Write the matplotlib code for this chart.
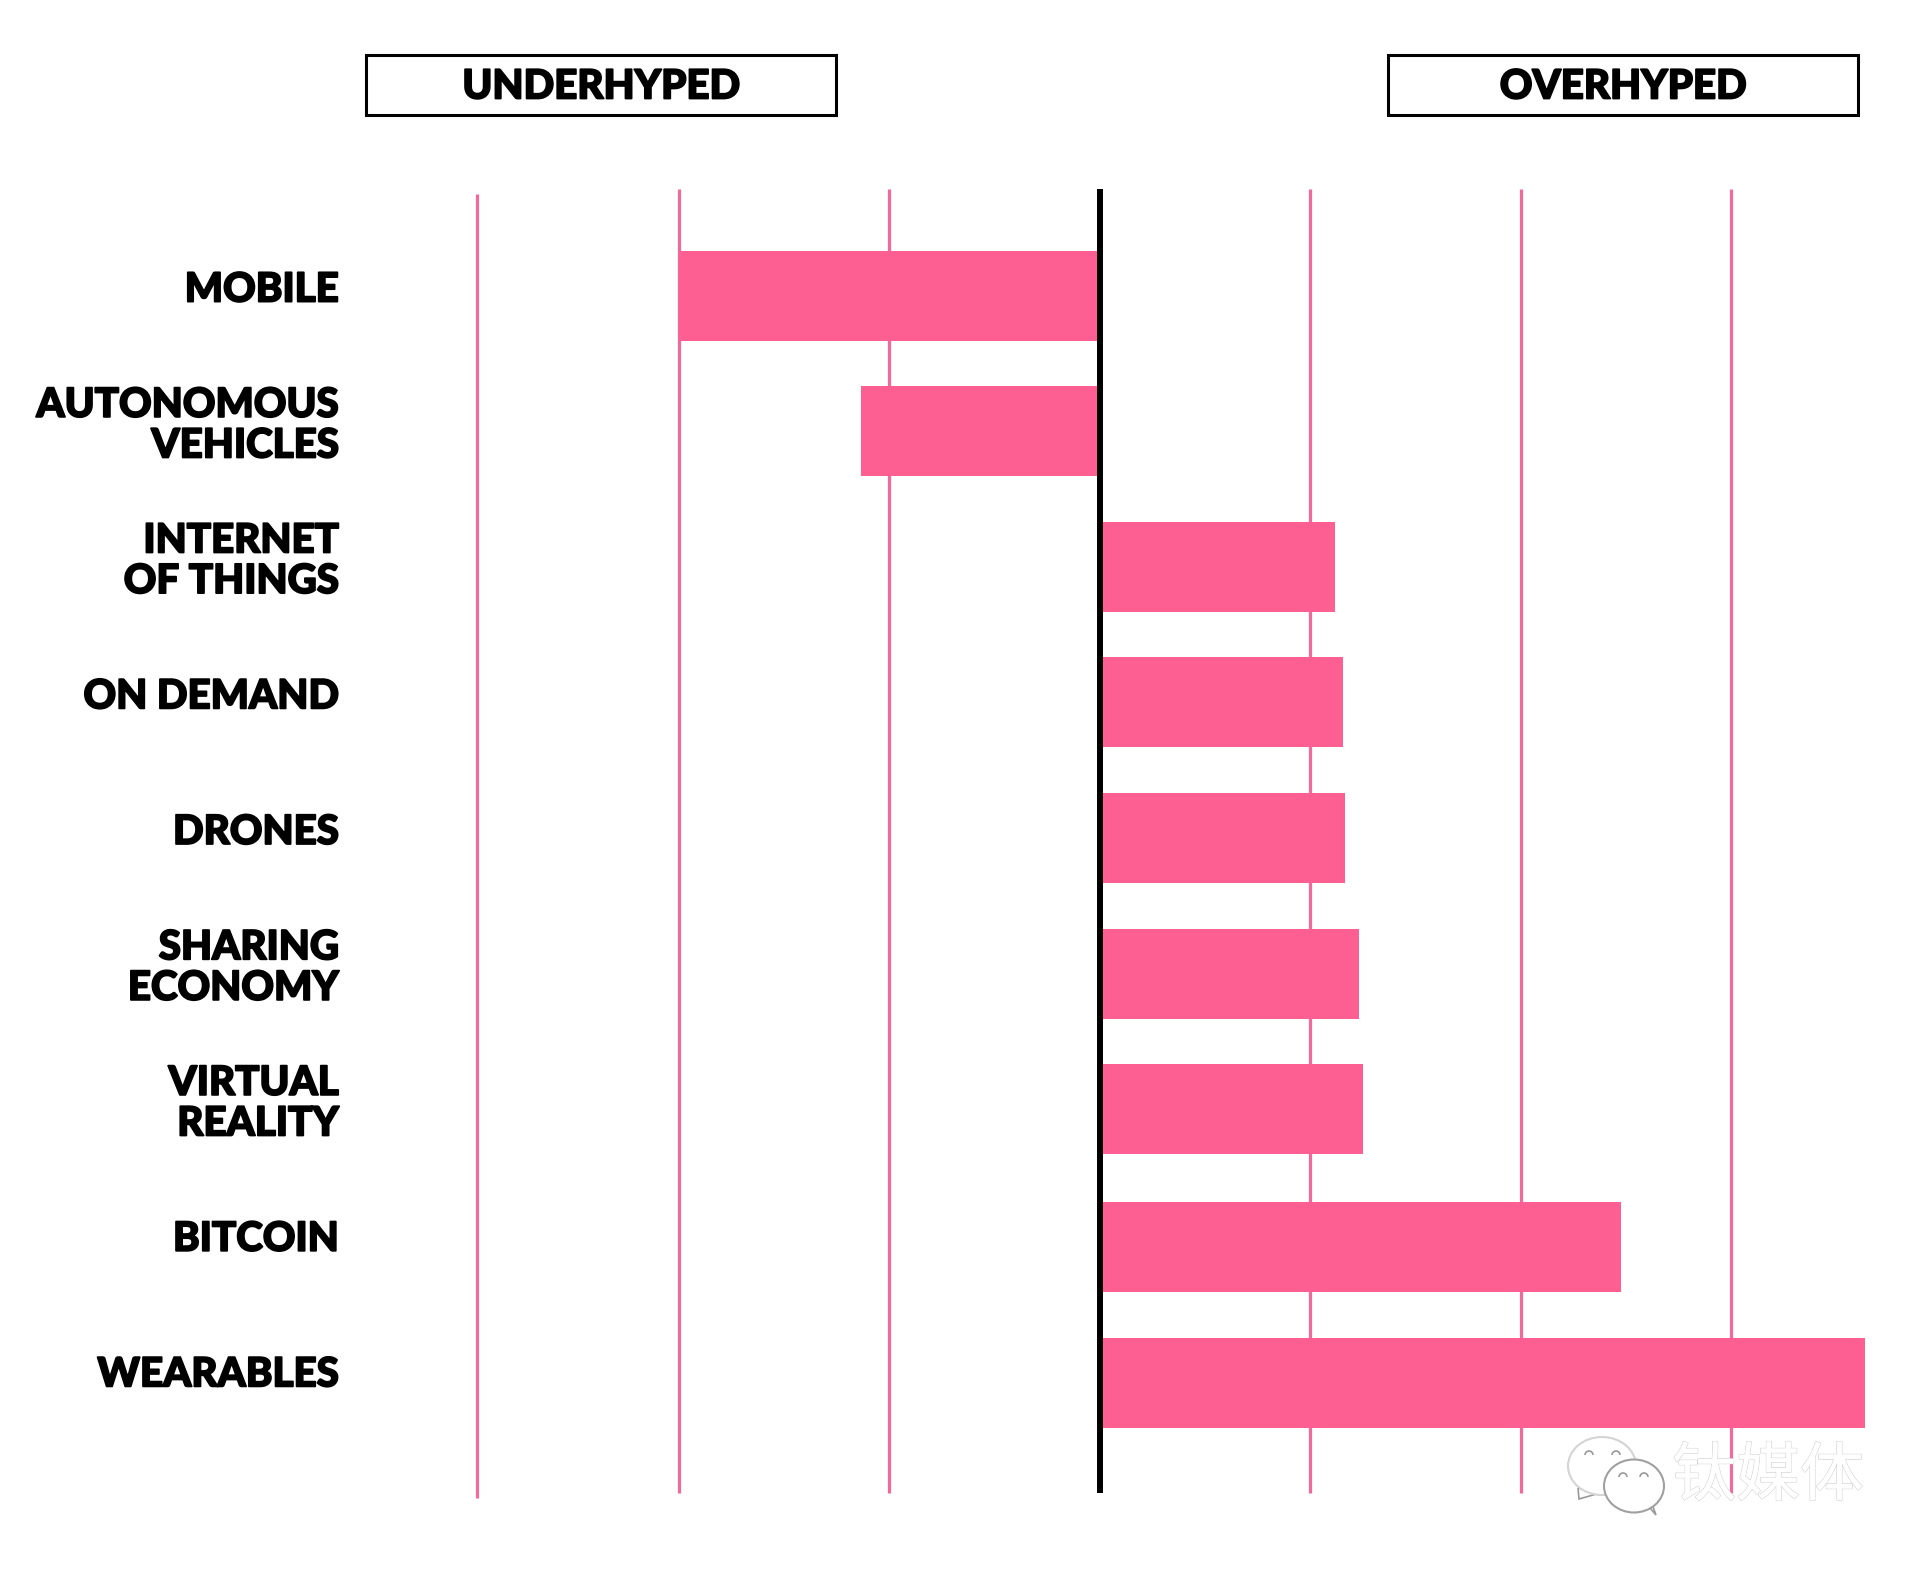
import matplotlib
matplotlib.use('Agg')
import matplotlib.pyplot as plt
import matplotlib.patheffects as pe
from matplotlib.patches import Arc, Ellipse, Polygon, Rectangle

categories = ['MOBILE', 'AUTONOMOUS\nVEHICLES', 'INTERNET\nOF THINGS', 'ON DEMAND', 'DRONES',
              'SHARING\nECONOMY', 'VIRTUAL\nREALITY', 'BITCOIN', 'WEARABLES']
values = [-2.0, -1.136, 1.117, 1.154, 1.165, 1.232, 1.25, 2.475, 3.636]
rows = [0, 1, 2, 3, 4, 5, 6, 7.02, 8.02]
grid_values = [-2, -1, 1, 2, 3]
PINK = '#fd5f92'
LINE = '#f06a9b'

W, H = 1926, 1574
X0, UNIT = 1099.8, 210.5
Y0, ROW = 295.5, 135.6
BAR_H = 90 / ROW


def px(x):
    return (x - X0) / UNIT


def py(y):
    return (y - Y0) / ROW


fig = plt.figure(figsize=(W / 100, H / 100), dpi=100)
ax = fig.add_axes([0, 0, 1, 1])
ax.set_xlim(px(0), px(W))
ax.set_ylim(py(H), py(0))
ax.axis('off')

for g in grid_values:
    ax.plot([g, g], [py(189), py(1493)], color=LINE, lw=2.3, solid_capstyle='butt', zorder=1)
# the leftmost line sits a bit off the grid in the original
ax.plot([-2.96, -2.96], [py(194), py(1498)], color=LINE, lw=2.3, solid_capstyle='butt', zorder=1)

ax.barh(rows, values, height=BAR_H, color=PINK, linewidth=0, zorder=2)
ax.plot([0, 0], [py(189), py(1493)], color='black', lw=4.3, solid_capstyle='butt', zorder=3)

heavy = [pe.withStroke(linewidth=1.3, foreground='black')]
label_font = dict(family='Lato', weight='black', color='black', path_effects=heavy)
for i, name in enumerate(categories):
    ax.text(px(338.5), i - 0.04, name, ha='right', va='center', fontsize=29, linespacing=1.12, **label_font)

for left, name in [(366, 'UNDERHYPED'), (1388, 'OVERHYPED')]:
    ax.add_patch(Rectangle((px(left), py(55)), 470 / UNIT, 60 / ROW, fc='white', ec='black', lw=2.2, zorder=2))
    ax.text(px(left + 235), py(87), name, ha='center', va='center', fontsize=29, **label_font)

# wechat watermark
bubbles = [(1602, 1466, 68, 58, '#d4d4d4', [(1578, 1488), (1579, 1499), (1600, 1493)]),
           (1634, 1486, 60, 53, '#a0a0a0', [(1650, 1508), (1656, 1515), (1652, 1504)])]
for cx, cy, w, h, edge, tail in bubbles:
    ax.add_patch(Polygon([(px(a), py(b)) for a, b in tail], fc='white', ec='#9a9a9a', lw=1.2, zorder=4))
    ax.add_patch(Ellipse((px(cx), py(cy)), w / UNIT, h / ROW, fc='white', ec=edge, lw=1.5, zorder=4))
for ex, ey in [(1589, 1455), (1616, 1455), (1623, 1477), (1644, 1477)]:
    ax.add_patch(Arc((px(ex), py(ey)), 8 / UNIT, 8 / ROW, theta1=180, theta2=360, ec='#999999', lw=1.2, zorder=5))
ax.text(px(1768), py(1477), '钛媒体', ha='center', va='center', fontsize=46, color='white',
        family=['Noto Sans CJK SC', 'DejaVu Sans'], weight='light',
        path_effects=[pe.withStroke(linewidth=1.0, foreground='#d2d2d2'), pe.Normal()], zorder=5)

fig.savefig('out.png', dpi=100, facecolor='white')
